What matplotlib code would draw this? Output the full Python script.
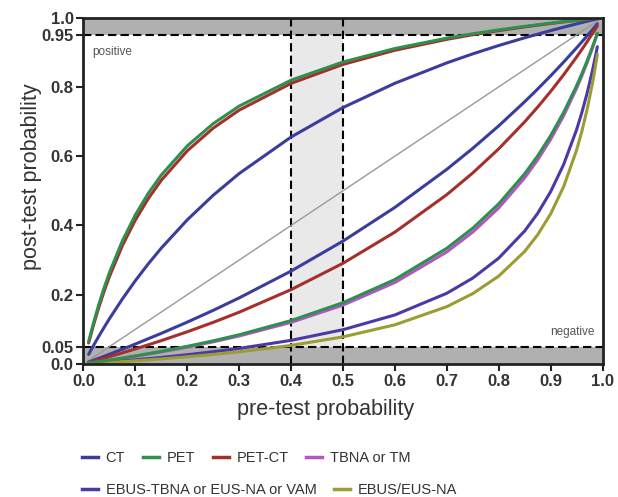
import matplotlib
matplotlib.use("Agg")
import matplotlib.pyplot as plt
from matplotlib.lines import Line2D

plt.rcParams['font.family'] = ['Liberation Sans', 'DejaVu Sans']

# pre-test probability grids (read positions)
pre_up = [0.01, 0.02, 0.03, 0.04, 0.05, 0.075, 0.1, 0.125, 0.15, 0.2, 0.25, 0.3, 0.4, 0.5,
          0.6, 0.7, 0.75, 0.8, 0.85, 0.9, 0.925, 0.95, 0.97, 0.98, 0.99]
pre_lo = [0.01, 0.02, 0.03, 0.05, 0.075, 0.1, 0.15, 0.2, 0.25, 0.3, 0.4, 0.5,
          0.6, 0.7, 0.75, 0.8, 0.85, 0.875, 0.9, 0.925, 0.95, 0.96, 0.97, 0.98, 0.985, 0.99]

# positive-result curves (post-test probability)
ct_pos = [0.0280, 0.0550, 0.0810, 0.1061, 0.1304, 0.1877, 0.2405, 0.2893, 0.3346, 0.4161, 0.4872, 0.5498,
          0.6552, 0.7403, 0.8104, 0.8693, 0.8953, 0.9194, 0.9417, 0.9625, 0.9723, 0.9819, 0.9893, 0.9929, 0.9965]
pet_pos = [0.0643, 0.1219, 0.1738, 0.2208, 0.2636, 0.3554, 0.4304, 0.4928, 0.5455, 0.6296, 0.6939, 0.7445,
           0.8193, 0.8718, 0.9107, 0.9407, 0.9533, 0.9645, 0.9747, 0.9839, 0.9882, 0.9923, 0.9955, 0.9970, 0.9985]
petct_pos = [0.0607, 0.1155, 0.1652, 0.2105, 0.2520, 0.3416, 0.4156, 0.4776, 0.5304, 0.6154, 0.6809, 0.7328,
             0.8101, 0.8649, 0.9057, 0.9372, 0.9505, 0.9624, 0.9732, 0.9829, 0.9875, 0.9918, 0.9952, 0.9968, 0.9984]

# negative-result curves
ct_neg = [0.0055, 0.0111, 0.0167, 0.0281, 0.0427, 0.0576, 0.0885, 0.1209, 0.1549, 0.1908, 0.2683, 0.3548,
          0.4521, 0.5620, 0.6226, 0.6875, 0.7571, 0.7938, 0.8319, 0.8715, 0.9127, 0.9296, 0.9468, 0.9642, 0.9731, 0.9820]
petct_neg = [0.0041, 0.0083, 0.0125, 0.0211, 0.0322, 0.0436, 0.0675, 0.0930, 0.1202, 0.1495, 0.2147, 0.2908,
             0.3808, 0.4889, 0.5516, 0.6212, 0.6991, 0.7416, 0.7868, 0.8349, 0.8862, 0.9077, 0.9299, 0.9526, 0.9642, 0.9760]
pet_neg = [0.0022, 0.0044, 0.0066, 0.0112, 0.0171, 0.0233, 0.0366, 0.0510, 0.0669, 0.0844, 0.1254, 0.1770,
           0.2439, 0.3341, 0.3921, 0.4624, 0.5492, 0.6008, 0.6593, 0.7261, 0.8033, 0.8377, 0.8742, 0.9133, 0.9339, 0.9551]
tbna_neg = [0.0021, 0.0042, 0.0063, 0.0107, 0.0164, 0.0223, 0.0349, 0.0488, 0.0640, 0.0808, 0.1202, 0.1701,
            0.2352, 0.3236, 0.3808, 0.4505, 0.5374, 0.5893, 0.6485, 0.7166, 0.7957, 0.8311, 0.8689, 0.9095, 0.9309, 0.9530]
ebus_neg = [0.0011, 0.0022, 0.0034, 0.0058, 0.0088, 0.0121, 0.0190, 0.0268, 0.0354, 0.0450, 0.0683, 0.0991,
            0.1416, 0.2042, 0.2481, 0.3056, 0.3840, 0.4350, 0.4975, 0.5757, 0.6764, 0.7253, 0.7805, 0.8435, 0.8784, 0.9159]
ebuseus_neg = [0.0009, 0.0017, 0.0026, 0.0045, 0.0068, 0.0094, 0.0148, 0.0208, 0.0276, 0.0351, 0.0536, 0.0783,
               0.1131, 0.1655, 0.2032, 0.2537, 0.3251, 0.3730, 0.4334, 0.5118, 0.6176, 0.6711, 0.7332, 0.8064, 0.8481, 0.8938]

labels = ["CT", "PET", "PET-CT", "TBNA or TM", "EBUS-TBNA or EUS-NA or VAM", "EBUS/EUS-NA"]
colors = ["#3b3d9c", "#2f8f4e", "#a3302a", "#b455c4", "#4b3aa6", "#9c9c34"]

x_ticks = [0.0, 0.1, 0.2, 0.3, 0.4, 0.5, 0.6, 0.7, 0.8, 0.9, 1.0]
y_ticks = [0.0, 0.05, 0.2, 0.4, 0.6, 0.8, 0.95, 1.0]
y_ticklabels = ["0.0", "0.05", "0.2", "0.4", "0.6", "0.8", "0.95", "1.0"]

fig = plt.figure(figsize=(6.18, 4.97), dpi=100)
ax = fig.add_axes([0.135, 0.2676, 0.84, 0.697])

# shaded regions
ax.axvspan(0.4, 0.5, color="#e9e9e9", zorder=0, lw=0)
ax.axhspan(0.95, 1.0, color="#b0b0b0", zorder=0.5, lw=0)
ax.axhspan(0.0, 0.05, color="#b0b0b0", zorder=0.5, lw=0)

# dashed guides
for yv in [0.05, 0.95]:
    ax.axhline(yv, color="black", lw=1.5, ls=(0, (4, 2)), zorder=1)
for xv in [0.4, 0.5]:
    ax.axvline(xv, color="black", lw=1.5, ls=(0, (4, 2)), zorder=1)

# diagonal
ax.plot([0, 1], [0, 1], color="#999999", lw=1.0, zorder=2)

lw = 2.2
kw = dict(lw=lw, solid_joinstyle="round", solid_capstyle="round")
ax.plot(pre_up, ct_pos, color=colors[0], zorder=3, **kw)
ax.plot(pre_lo, ct_neg, color=colors[0], zorder=3, **kw)
ax.plot(pre_up, petct_pos, color=colors[2], zorder=3, **kw)
ax.plot(pre_lo, petct_neg, color=colors[2], zorder=3, **kw)
ax.plot(pre_lo, tbna_neg, color=colors[3], zorder=3, **kw)
ax.plot(pre_up, pet_pos, color=colors[1], zorder=4, **kw)
ax.plot(pre_lo, pet_neg, color=colors[1], zorder=4, **kw)
ax.plot(pre_lo, ebus_neg, color=colors[4], zorder=3, **kw)
ax.plot(pre_lo, ebuseus_neg, color=colors[5], zorder=3, **kw)

ax.set_xlim(0, 1)
ax.set_ylim(0, 1)
ax.set_xticks(x_ticks)
ax.set_xticklabels([f"{v:.1f}" for v in x_ticks])
ax.set_yticks(y_ticks)
ax.set_yticklabels(y_ticklabels)
for s in ax.spines.values():
    s.set_linewidth(2.0)
    s.set_color("#222222")
    s.set_zorder(5)
ax.tick_params(direction="out", length=5, width=1.5, color="#222222",
               labelsize=12, labelcolor="#333333", pad=2)
for t in ax.get_xticklabels() + ax.get_yticklabels():
    t.set_fontweight("bold")

ax.set_xlabel("pre-test probability", fontsize=15.5, color="#333333")
ax.set_ylabel("post-test probability", fontsize=15.5, color="#333333")
ax.xaxis.set_label_coords(0.467, -0.1)
ax.yaxis.set_label_coords(-0.08, 0.54)

ax.text(0.017, 0.90, "positive", fontsize=8.5, color="#555555", ha="left", va="center", zorder=6)
ax.text(0.985, 0.092, "negative", fontsize=8.5, color="#555555", ha="right", va="center", zorder=6)

handles = [Line2D([0], [0], color=c, lw=2.5) for c in colors]
leg_kw = dict(frameon=False, fontsize=10.5, handlelength=1.1, handletextpad=0.55,
              columnspacing=1.2, borderaxespad=0, borderpad=0)
leg1 = fig.legend(handles[:4], labels[:4], ncol=4, loc="center left",
                  bbox_to_anchor=(0.132, 1 - 458 / 497), **leg_kw)
leg2 = fig.legend(handles[4:], labels[4:], ncol=2, loc="center left",
                  bbox_to_anchor=(0.132, 1 - 490 / 497), **leg_kw)
for leg in (leg1, leg2):
    for t in leg.get_texts():
        t.set_color("#333333")

fig.savefig("out.png", dpi=100)
